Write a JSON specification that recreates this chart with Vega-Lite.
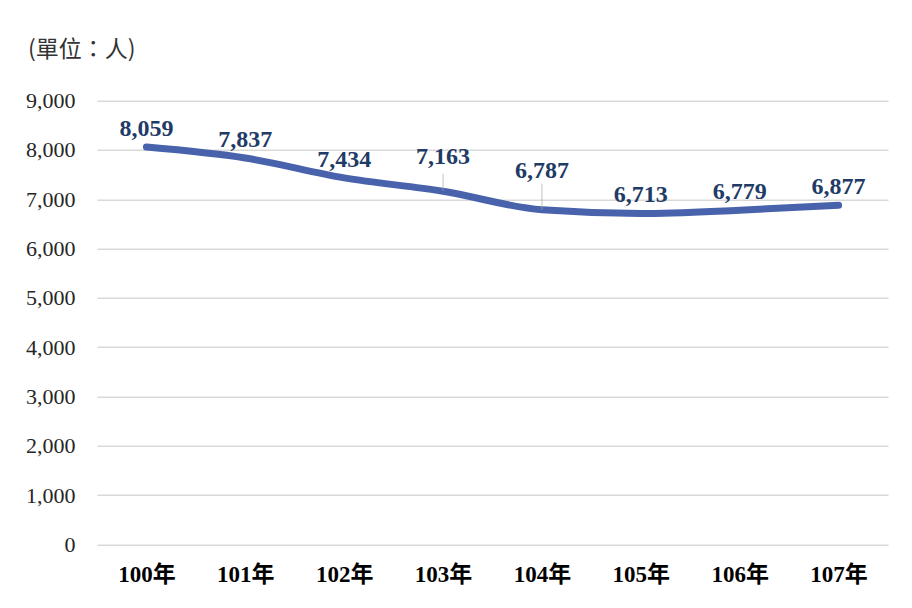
{
  "$schema": "https://vega.github.io/schema/vega-lite/v6.json",
  "autosize": {"type": "none"},
  "width": 791,
  "height": 443.6,
  "padding": {"left": 97, "top": 100.7, "right": 24, "bottom": 63.7},
  "background": "white",
  "title": {
    "text": "(單位：人)",
    "anchor": "start",
    "frame": "group",
    "dx": -69,
    "offset": 28,
    "fontSize": 23,
    "font": "Noto Sans CJK TC",
    "fontWeight": "normal",
    "color": "#333333"
  },
  "data": {
    "values": [
      {"year": "100年", "value": 8059},
      {"year": "101年", "value": 7837},
      {"year": "102年", "value": 7434},
      {"year": "103年", "value": 7163},
      {"year": "104年", "value": 6787},
      {"year": "105年", "value": 6713},
      {"year": "106年", "value": 6779},
      {"year": "107年", "value": 6877}
    ]
  },
  "encoding": {
    "x": {
      "field": "year",
      "type": "ordinal",
      "sort": null,
      "scale": {"type": "point", "padding": 0.5},
      "axis": {
        "title": null,
        "domain": false,
        "ticks": false,
        "labelAngle": 0,
        "labelPadding": 19,
        "labelFont": "Liberation Serif, Noto Sans CJK TC",
        "labelFontSize": 23,
        "labelFontWeight": "bold",
        "labelColor": "#000000",
        "grid": false
      }
    },
    "y": {
      "field": "value",
      "type": "quantitative",
      "scale": {"domain": [0, 9000]},
      "axis": {
        "title": null,
        "values": [0, 1000, 2000, 3000, 4000, 5000, 6000, 7000, 8000, 9000],
        "format": ",d",
        "domain": false,
        "ticks": false,
        "labelPadding": 22,
        "labelFont": "Liberation Serif",
        "labelFontSize": 22,
        "labelColor": "#262626",
        "gridColor": "#d9d9d9",
        "gridWidth": 1.5
      }
    }
  },
  "layer": [
    {
      "mark": {"type": "line", "interpolate": "monotone", "strokeWidth": 7, "strokeCap": "round", "color": "#4863ac"}
    },
    {
      "transform": [{"filter": "datum.year == '103年'"}],
      "mark": {"type": "tick", "orient": "vertical", "size": 17, "thickness": 1, "yOffset": -9, "color": "#a6a6a6"}
    },
    {
      "transform": [{"filter": "datum.year == '104年'"}],
      "mark": {"type": "tick", "orient": "vertical", "size": 26, "thickness": 1, "yOffset": -13, "color": "#a6a6a6"}
    },
    {
      "transform": [{"filter": "datum.year != '103年' && datum.year != '104年'"}],
      "mark": {"type": "text", "dy": -11, "baseline": "alphabetic", "font": "Liberation Serif", "fontSize": 24, "fontWeight": "bold", "color": "#1f3b66"},
      "encoding": {"text": {"field": "value", "type": "quantitative", "format": ",d"}}
    },
    {
      "transform": [{"filter": "datum.year == '103年'"}],
      "mark": {"type": "text", "dy": -27, "baseline": "alphabetic", "font": "Liberation Serif", "fontSize": 24, "fontWeight": "bold", "color": "#1f3b66"},
      "encoding": {"text": {"field": "value", "type": "quantitative", "format": ",d"}}
    },
    {
      "transform": [{"filter": "datum.year == '104年'"}],
      "mark": {"type": "text", "dy": -32, "baseline": "alphabetic", "font": "Liberation Serif", "fontSize": 24, "fontWeight": "bold", "color": "#1f3b66"},
      "encoding": {"text": {"field": "value", "type": "quantitative", "format": ",d"}}
    }
  ],
  "config": {"view": {"stroke": null}}
}
